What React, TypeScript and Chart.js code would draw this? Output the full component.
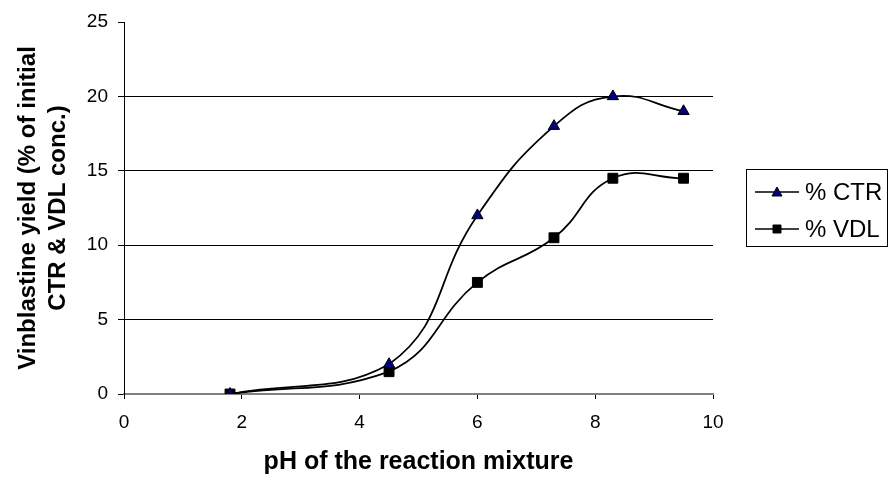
import React, { useEffect, useRef } from "react";
import { Chart, registerables } from "chart.js";

Chart.register(...registerables);

const phValues = [1.8, 4.5, 6, 7.3, 8.3, 9.5];
const ctrValues = [0, 2, 12, 18, 20, 19];
const vdlValues = [0, 1.5, 7.5, 10.5, 14.5, 14.5];
const seriesNames = ["% CTR", "% VDL"];
const xTitle = "pH of the reaction mixture";
const yTitle = ["Vinblastine yield (% of initial", "CTR & VDL conc.)"];

const FONT = "'Liberation Sans', Arial, sans-serif";

function drawMarker(ctx: CanvasRenderingContext2D, style: string, x: number, y: number, r: number, fill: string) {
  ctx.save();
  ctx.fillStyle = fill;
  ctx.strokeStyle = "#000000";
  ctx.lineWidth = 1;
  ctx.beginPath();
  if (style === "triangle") {
    ctx.moveTo(x, y - r);
    ctx.lineTo(x + r, y + r * 0.8);
    ctx.lineTo(x - r, y + r * 0.8);
    ctx.closePath();
  } else {
    ctx.rect(x - r * 0.8, y - r * 0.8, r * 1.6, r * 1.6);
  }
  ctx.fill();
  ctx.stroke();
  ctx.restore();
}

const boxLegend = {
  id: "boxLegend",
  afterDraw(chart: any) {
    const ctx = chart.ctx as CanvasRenderingContext2D;
    const left = 746, top = 169, w = 141, h = 77;
    ctx.save();
    ctx.strokeStyle = "#000000";
    ctx.lineWidth = 1;
    ctx.strokeRect(left + 0.5, top + 0.5, w, h);
    chart.data.datasets.forEach((ds: any, i: number) => {
      const y = top + 23 + i * 37;
      ctx.strokeStyle = "#000000";
      ctx.lineWidth = 1.5;
      ctx.beginPath();
      ctx.moveTo(left + 9, y);
      ctx.lineTo(left + 53, y);
      ctx.stroke();
      drawMarker(ctx, ds.pointStyle, left + 31, y, 5, ds.pointBackgroundColor);
      ctx.fillStyle = "#000000";
      ctx.font = `24px ${FONT}`;
      ctx.textBaseline = "middle";
      ctx.textAlign = "left";
      ctx.fillText(ds.label, left + 59, y + 1);
    });
    ctx.restore();
  },
};

export default function App() {
  const ref = useRef<HTMLCanvasElement | null>(null);
  useEffect(() => {
    document.body.style.margin = "0";
    const canvas = ref.current!;
    const chart = new Chart(canvas, {
      type: "line",
      data: {
        datasets: [
          {
            label: seriesNames[0],
            data: phValues.map((x, i) => ({ x, y: ctrValues[i] })),
            borderColor: "#000000",
            borderWidth: 1.75,
            pointStyle: "triangle",
            pointRadius: 6.5,
            pointBackgroundColor: "#000080",
            pointBorderColor: "#000000",
            pointBorderWidth: 1,
            tension: 0.45,
          },
          {
            label: seriesNames[1],
            data: phValues.map((x, i) => ({ x, y: vdlValues[i] })),
            borderColor: "#000000",
            borderWidth: 1.75,
            pointStyle: "rect",
            pointRadius: 7,
            pointBackgroundColor: "#000000",
            pointBorderColor: "#000000",
            pointBorderWidth: 1,
            tension: 0.45,
          },
        ],
      },
      options: {
        animation: false,
        responsive: false,
        layout: { padding: { top: 22, right: 176, left: 0, bottom: 0 } },
        plugins: { legend: { display: false }, tooltip: { enabled: false } },
        scales: {
          x: {
            type: "linear",
            min: 0,
            max: 10,
            afterFit: (s: any) => { s.height = 83; },
            ticks: { stepSize: 2, color: "#000000", font: { family: FONT, size: 19 }, padding: 12 },
            grid: { drawOnChartArea: false, drawTicks: true, tickLength: 5, tickColor: "#000000" },
            border: { color: "#808080", width: 2 },
            title: {
              display: true,
              text: xTitle,
              color: "#000000",
              font: { family: FONT, size: 25, weight: "bold", lineHeight: 1.2 },
              padding: { top: 0, bottom: 0 },
            },
          },
          y: {
            min: 0,
            max: 25,
            afterFit: (s: any) => { s.width = 124; },
            ticks: { stepSize: 5, color: "#000000", font: { family: FONT, size: 19 }, padding: 10 },
            grid: {
              color: (c: any) => (c.tick && c.tick.value === 25 ? "rgba(0,0,0,0)" : "#000000"),
              tickColor: "#000000",
              tickLength: 6,
              lineWidth: 1,
            },
            border: { color: "#000000", width: 1 },
            title: {
              display: true,
              text: yTitle,
              color: "#000000",
              font: { family: FONT, size: 24, weight: "bold", lineHeight: 1.25 },
              padding: { top: 13, bottom: 0 },
            },
          },
        },
      },
      plugins: [boxLegend],
    } as any);
    return () => chart.destroy();
  }, []);
  return (
    <div style={{ width: 889, height: 477, background: "#ffffff" }}>
      <canvas ref={ref} width={889} height={477} style={{ display: "block" }} />
    </div>
  );
}
